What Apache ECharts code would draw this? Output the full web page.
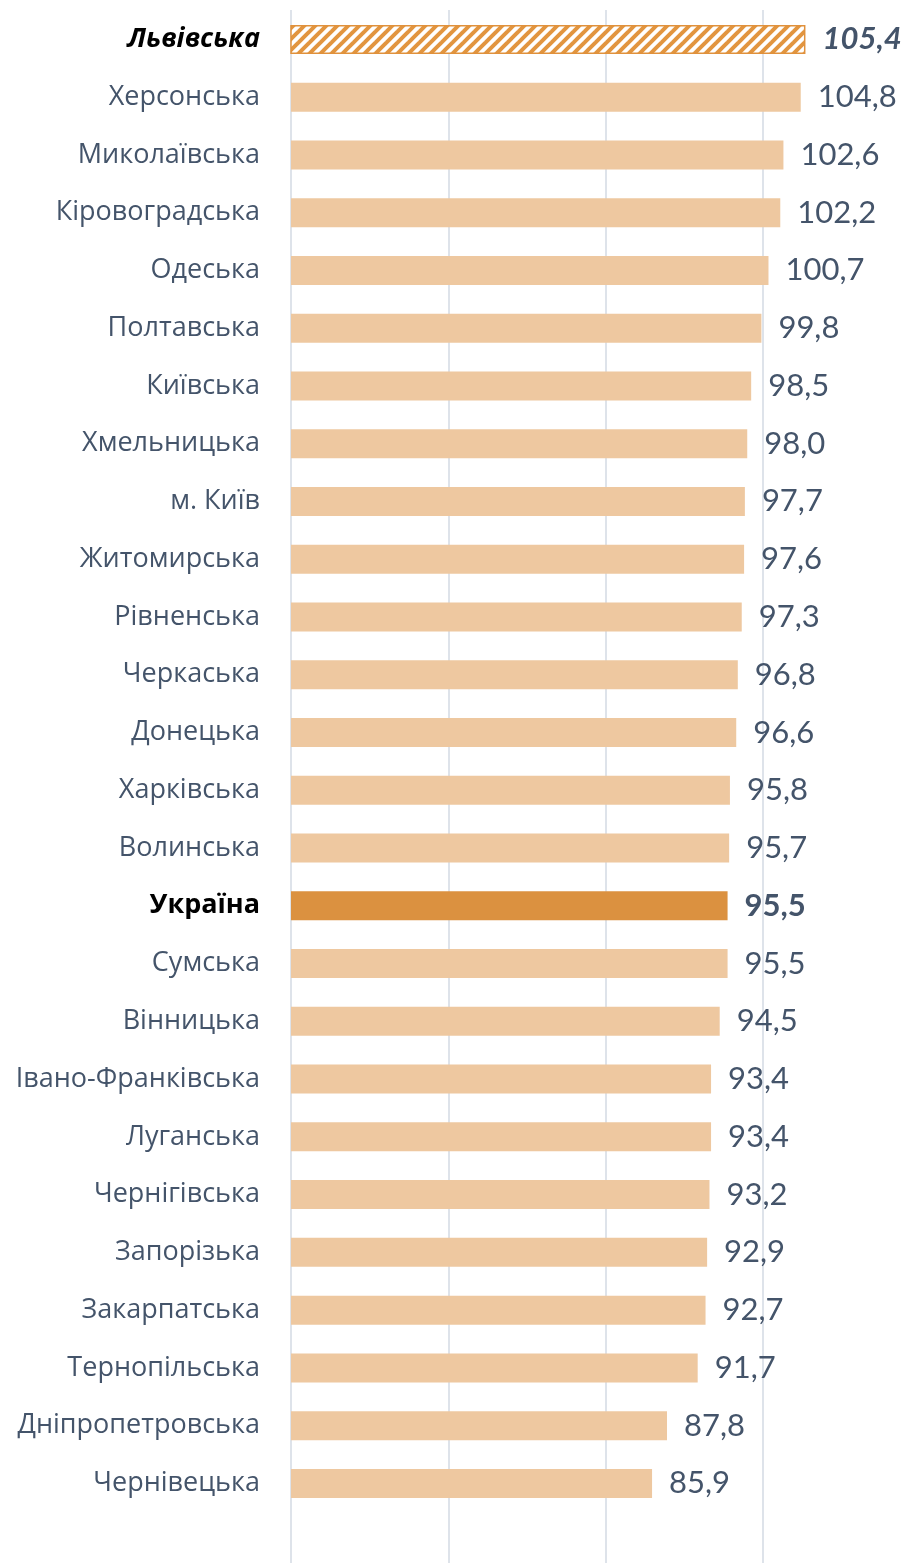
<!DOCTYPE html>
<html><head><meta charset="utf-8">
<script src="https://cdn.jsdelivr.net/npm/echarts@6/dist/echarts.min.js"></script>
<style>html,body{margin:0;padding:0;background:#fff}#c{width:911px;height:1563px}</style>
</head><body><div id="c"></div>
<script>
const categories = ['Львівська','Херсонська','Миколаївська','Кіровоградська','Одеська','Полтавська','Київська','Хмельницька','м. Київ','Житомирська','Рівненська','Черкаська','Донецька','Харківська','Волинська','Україна','Сумська','Вінницька','Івано-Франківська','Луганська','Чернігівська','Запорізька','Закарпатська','Тернопільська','Дніпропетровська','Чернівецька'];
const values = [105.4,104.8,102.6,102.2,100.7,99.8,98.5,98.0,97.7,97.6,97.3,96.8,96.6,95.8,95.7,95.5,95.5,94.5,93.4,93.4,93.2,92.9,92.7,91.7,87.8,85.9];
const highlightRegion = 'Львівська';
const nationalTotal = 'Україна';
const xTicks = [40,60,80,100,120];

const pc = document.createElement('canvas');
pc.width = 11; pc.height = 11;
const g = pc.getContext('2d');
g.fillStyle = '#fff'; g.fillRect(0,0,11,11);
g.strokeStyle = '#E2953F'; g.lineWidth = 4;
for (let k = -1; k <= 1; k++) {
  g.beginPath(); g.moveTo(k*11 - 2, 13); g.lineTo(k*11 + 13, -2); g.stroke();
}

const txt = '#44546A';
const fmt = v => v.toFixed(1).replace('.', ',');
const data = values.map((v, i) => {
  const c = categories[i];
  if (c === highlightRegion) return {value: v,
    itemStyle: {color: {image: pc, repeat: 'repeat'}, borderColor: '#E0913C', borderWidth: 1.5},
    label: {fontWeight: 'bold', fontStyle: 'italic'}};
  if (c === nationalTotal) return {value: v, itemStyle: {color: '#DB9140'}, label: {fontWeight: 'bold'}};
  return {value: v};
});

const chart = echarts.init(document.getElementById('c'));
chart.setOption({
  animation: false,
  grid: [
    {left: 291, width: 629.3, top: 10.5, bottom: 50.7, containLabel: false, outerBoundsMode: 'none'},
    {left: 291, width: 629.3, top: 10, bottom: 0, containLabel: false, outerBoundsMode: 'none'}
  ],
  xAxis: [
    {gridIndex: 0, type: 'value', min: xTicks[0], max: xTicks[xTicks.length-1], interval: 20,
     axisLabel: {show: false}, axisLine: {show: false}, axisTick: {show: false}, splitLine: {show: false}},
    {gridIndex: 1, type: 'value', min: xTicks[0], max: xTicks[xTicks.length-1], interval: 20,
     axisLabel: {show: false}, axisLine: {show: false}, axisTick: {show: false},
     splitLine: {show: true, lineStyle: {color: '#DEE3EA', width: 2}}}
  ],
  yAxis: [
    {gridIndex: 0, type: 'category', inverse: true, data: categories,
     axisLine: {show: false}, axisTick: {show: false},
     axisLabel: {margin: 31, fontFamily: 'Open Sans', fontSize: 27, color: txt,
       formatter: v => v === highlightRegion ? '{hl|' + v + '}' : (v === nationalTotal ? '{ua|' + v + '}' : v),
       rich: {
         hl: {fontFamily: 'Open Sans', fontSize: 27, fontWeight: 'bold', fontStyle: 'italic', color: '#000'},
         ua: {fontFamily: 'Open Sans', fontSize: 27, fontWeight: 'bold', color: '#000'}
       }}},
    {gridIndex: 1, type: 'value', show: false}
  ],
  series: [{
    type: 'bar', xAxisIndex: 0, yAxisIndex: 0, data: data, barWidth: 29,
    itemStyle: {color: '#EEC8A0'},
    label: {show: true, position: 'right', distance: 17, fontFamily: 'Lato', fontSize: 31, color: txt,
      formatter: p => fmt(p.value)}
  }]
});
</script></body></html>
